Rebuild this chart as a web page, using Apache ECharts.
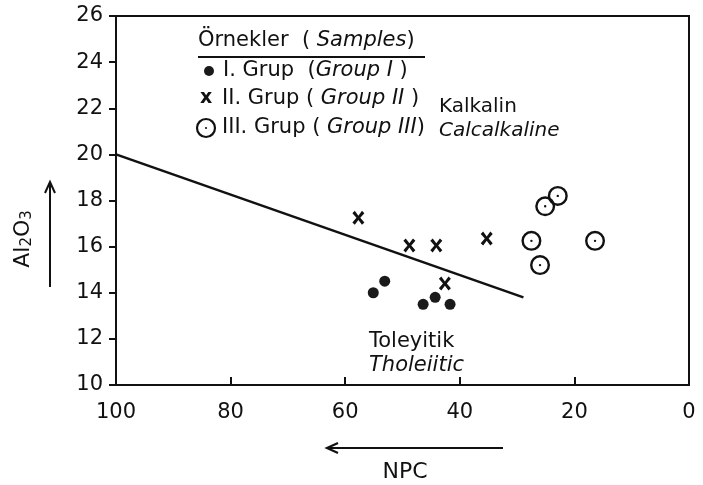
<!DOCTYPE html>
<html>
<head>
<meta charset="utf-8">
<script src="https://cdn.jsdelivr.net/npm/echarts@6/dist/echarts.min.js"></script>
<style>
  html, body { margin: 0; padding: 0; background: #fff; }
  #chart { width: 703px; height: 485px; }
</style>
</head>
<body>
<div id="chart"></div>
<script>
// NPC (x) / Al2O3 (y) values
const group1 = [[55.1, 14.0], [53.1, 14.5], [46.4, 13.5], [44.3, 13.8], [41.7, 13.5]]
const group2 = [[57.7, 17.25], [48.8, 16.05], [44.1, 16.05], [42.6, 14.4], [35.3, 16.35]]
const group3 = [[22.9, 18.2], [25.1, 17.75], [27.5, 16.25], [26.0, 15.2], [16.4, 16.25]]
// boundary calcalkaline / tholeiitic
const boundary = [[100, 20], [28.9, 13.8]]
const xTicks = { min: 0, max: 100, step: 20 }
const yTicks = { min: 10, max: 26, step: 2 }

const FONT = 'DejaVu Sans'
const crossPath = 'path://M0,2L2,0L5,4.2L8,0L10,2L6.6,6L10,10L8,12L5,7.8L2,12L0,10L3.4,6Z'
// ring with a small dot in the middle (inner circle wound the other way -> hole)
const ringDotPath = 'path://M0,-10A10,10,0,1,1,0,10A10,10,0,1,1,0,-10Z' +
  'M0,-7.6A7.6,7.6,0,1,0,0,7.6A7.6,7.6,0,1,0,0,-7.6Z' +
  'M0,-1.2A1.2,1.2,0,1,1,0,1.2A1.2,1.2,0,1,1,0,-1.2Z'

const rich = {
  n: { fontSize: 21, fontFamily: FONT },
  i: { fontSize: 21, fontFamily: FONT, fontStyle: 'italic' }
}

const chart = echarts.init(document.getElementById('chart'))

const option = {
  animation: false,
  backgroundColor: '#fff',
  textStyle: { fontFamily: FONT, color: '#111' },
  grid: {
    left: 116, right: 14, top: 16, bottom: 100,
    show: true, borderColor: '#111', borderWidth: 2
  },
  xAxis: {
    type: 'value', inverse: true,
    min: xTicks.min, max: xTicks.max, interval: xTicks.step,
    axisLine: { onZero: false, lineStyle: { color: '#111', width: 2 } },
    axisTick: { inside: true, length: 8, lineStyle: { color: '#111', width: 2 } },
    axisLabel: { color: '#111', fontSize: 21, margin: 17, fontFamily: FONT },
    splitLine: { show: false }
  },
  yAxis: {
    type: 'value',
    min: yTicks.min, max: yTicks.max, interval: yTicks.step,
    axisLine: { onZero: false, lineStyle: { color: '#111', width: 2 } },
    axisTick: { length: 7, lineStyle: { color: '#111', width: 2 } },
    axisLabel: { color: '#111', fontSize: 21, margin: 13, fontFamily: FONT },
    splitLine: { show: false }
  },
  series: [
    {
      name: 'boundary', type: 'line', data: boundary,
      symbol: 'none', lineStyle: { color: '#111', width: 2.5 }, z: 1
    },
    {
      name: 'I. Grup', type: 'scatter', data: group1,
      symbol: 'circle', symbolSize: 11,
      itemStyle: { color: '#1a1a1a', opacity: 1 }
    },
    {
      name: 'II. Grup', type: 'scatter', data: group2,
      symbol: crossPath, symbolSize: [12, 14],
      itemStyle: { color: '#111', opacity: 1 }
    },
    {
      name: 'III. Grup', type: 'scatter', data: group3,
      symbol: ringDotPath, symbolSize: 20,
      itemStyle: { color: '#111', opacity: 1 }
    }
  ],
  graphic: [
    // legend title
    { type: 'text', left: 198, top: 30,
      style: { text: '{n|Örnekler  (}{i| Samples}{n|)}', fill: '#111', rich } },
    { type: 'line', shape: { x1: 198, y1: 57, x2: 425, y2: 57 }, style: { stroke: '#111', lineWidth: 2 } },
    // legend rows
    { type: 'circle', shape: { cx: 209, cy: 71, r: 5 }, style: { fill: '#1a1a1a' } },
    { type: 'text', left: 223, top: 60,
      style: { text: '{n|I. Grup  (}{i|Group I }{n|)}', fill: '#111', rich } },
    { type: 'text', left: 200, top: 89,
      style: { text: 'x', fill: '#111', font: 'bold 19px ' + FONT } },
    { type: 'text', left: 222, top: 88,
      style: { text: '{n|II. Grup (}{i| Group II }{n|)}', fill: '#111', rich } },
    { type: 'circle', shape: { cx: 206, cy: 128, r: 9 }, style: { fill: '#fff', stroke: '#111', lineWidth: 2.2 } },
    { type: 'circle', shape: { cx: 206, cy: 128, r: 1.1 }, style: { fill: '#111' } },
    { type: 'text', left: 222, top: 117,
      style: { text: '{n|III. Grup (}{i| Group III}{n|)}', fill: '#111', rich } },
    // field names
    { type: 'text', left: 439, top: 97, style: { text: 'Kalkalin', fill: '#111', font: '20px ' + FONT } },
    { type: 'text', left: 439, top: 121, style: { text: 'Calcalkaline', fill: '#111', font: 'italic 20px ' + FONT } },
    { type: 'text', left: 369, top: 331, style: { text: 'Toleyitik', fill: '#111', font: '21px ' + FONT } },
    { type: 'text', left: 369, top: 355, style: { text: 'Tholeiitic', fill: '#111', font: 'italic 21px ' + FONT } },
    // y axis name with arrow
    { type: 'text', x: 23, y: 239, rotation: Math.PI / 2,
      style: { text: '{n|Al}{s|2}{n|O}{s|3}', fill: '#111', align: 'center', verticalAlign: 'middle',
        rich: { n: { fontSize: 22, fontFamily: FONT }, s: { fontSize: 15, fontFamily: FONT, padding: [9, 0, 0, 0] } } } },
    { type: 'line', shape: { x1: 50, y1: 287, x2: 50, y2: 184 }, style: { stroke: '#111', lineWidth: 2 } },
    { type: 'polyline', shape: { points: [[45, 193], [50, 182], [55, 193]] }, style: { stroke: '#111', lineWidth: 2, fill: null } },
    // x axis name with arrow
    { type: 'line', shape: { x1: 503, y1: 448, x2: 329, y2: 448 }, style: { stroke: '#111', lineWidth: 2.2 } },
    { type: 'polyline', shape: { points: [[338, 443], [327, 448], [338, 453]] }, style: { stroke: '#111', lineWidth: 2.2, fill: null } },
    { type: 'text', x: 405, y: 472, style: { text: 'NPC', fill: '#111', font: '22px ' + FONT, align: 'center', verticalAlign: 'middle' } }
  ]
}

chart.setOption(option)
</script>
</body>
</html>
